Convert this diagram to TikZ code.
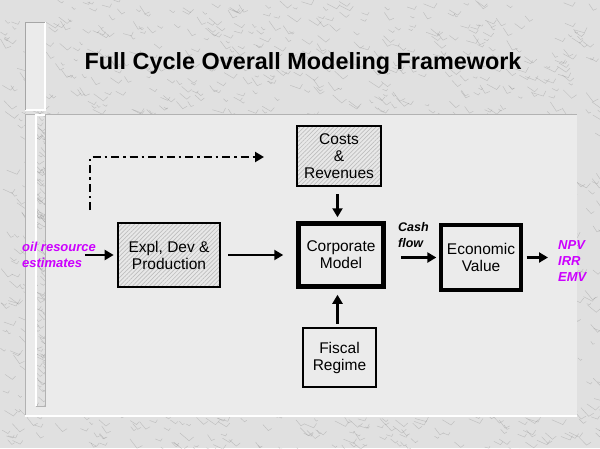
\documentclass[tikz,border=0pt]{standalone}
\usepackage{fontspec}
\setmainfont{Liberation Sans}
\usetikzlibrary{arrows.meta,patterns.meta}
\definecolor{marble}{HTML}{E0E0E0}
\definecolor{panelc}{HTML}{EBEBEB}
\definecolor{hatchbg}{HTML}{E8E8E8}
\definecolor{vein}{HTML}{808080}
\definecolor{mag}{HTML}{CC00FF}
\tikzset{
  box/.style={draw=black, line width=2.7pt, align=center, inner sep=0pt,
    font=\fontsize{15.5}{17}\selectfont, fill=panelc},
  hatched/.style={draw=black, line width=2.7pt, align=center, inner sep=0pt,
    font=\fontsize{15.5}{17}\selectfont,
    preaction={fill=hatchbg},
    pattern={Lines[angle=45,distance=3pt,line width=0.7pt]}, pattern color=white!50!gray},
  flow/.style={line width=2.6pt, -{Triangle[length=9pt,width=10pt]}},
  dashdot/.style={line width=2.2pt, dash pattern=on 8pt off 4pt on 2.5pt off 4pt,
    -{Triangle[length=9pt,width=10pt]}},
  magtext/.style={text=mag, align=left, inner sep=0pt,
    font=\fontsize{13}{16}\selectfont\bfseries\itshape},
  cashtext/.style={align=left, inner sep=0pt,
    font=\fontsize{12.5}{16}\selectfont\bfseries\itshape},
  titletext/.style={font=\fontsize{23.4}{26}\selectfont\bfseries, inner sep=0pt},
  veinline/.style={vein, line width=0.45pt, opacity=0.35, line cap=round}
}
\newcommand{\marbletexture}[4]{%
  \foreach \k in {1,...,#1}{%
    \pgfmathsetmacro{\xa}{#2+rnd*(#3-#2)}%
    \pgfmathsetmacro{\ya}{rnd*#4}%
    \pgfmathsetmacro{\ang}{15+rnd*45}%
    \pgfmathsetmacro{\len}{3+rnd*9}%
    \draw[veinline] (\xa,\ya) -- ++(\ang:\len) -- ++(\ang-80:\len*0.5);
  }%
}
\begin{document}
\begin{tikzpicture}[x=1pt,y=-1pt]
  \useasboundingbox (0,0) rectangle (600,448);
  \pgfmathsetseed{7}
  % marble background
  \fill[marble] (0,0) rectangle (600,448);
  \marbletexture{1600}{0}{600}{448}
  % title bar
  \fill[panelc] (25,22) rectangle (45,110);
  \draw[white, line width=1.2pt] (25,110) -- (45,110) -- (45,22);
  \draw[gray!70, line width=1pt] (25,110) -- (25,22) -- (45,22);
  % main panel
  \fill[panelc] (25,114) rectangle (577,416);
  \draw[gray!60, line width=1pt] (25,416) -- (25,114) -- (577,114);
  \draw[white, line width=1.2pt] (25,416) -- (577,416);
  % inner marble strip
  \fill[marble] (36,115) rectangle (45,406);
  \begin{scope}
    \clip (36,115) rectangle (45,406);
    \marbletexture{200}{30}{46}{448}
  \end{scope}
  \draw[white, line width=1.2pt] (36,406) -- (36,115) -- (45,115);
  \draw[gray!60, line width=0.8pt] (45,115) -- (45,406) -- (36,406);

  % title
  \node[titletext, anchor=base] (title) at (303,69) {Full Cycle Overall Modeling Framework};

  % boxes
  \node[hatched, minimum width=102pt, minimum height=64pt] (expl) at (169,255) {Expl, Dev \&\\Production};
  \node[hatched, minimum width=84pt, minimum height=60pt] (costs) at (339,156) {Costs\\\&\\Revenues};
  \node[box, line width=4.5pt, minimum width=85pt, minimum height=63pt] (corp) at (341,255) {Corporate\\Model};
  \node[box, line width=3.3pt, minimum width=80pt, minimum height=65pt] (econ) at (481,257.5) {Economic\\Value};
  \node[box, minimum width=73pt, minimum height=59pt] (fiscal) at (339.5,357.5) {Fiscal\\Regime};

  % side texts
  \node[magtext, anchor=west] (oil) at (22,255) {oil resource\\estimates};
  \node[magtext, anchor=west] (out) at (558,261) {NPV\\IRR\\EMV};
  \node[cashtext, anchor=west] (cash) at (398,235) {Cash\\flow};

  % connectors
  \draw[flow, shorten <=-11pt, shorten >=4pt] (oil.east) -- (expl.west);
  \draw[flow, shorten <=8pt, shorten >=13pt] (expl.east) -- (corp.west);
  \draw[flow, shorten <=7pt, shorten >=4pt] ([xshift=-1.5pt]costs.south) -- ([xshift=-1.5pt]costs.south|-corp.north);
  \draw[flow, shorten <=3pt, shorten >=6pt] ([xshift=-2pt]fiscal.north) -- ([xshift=-2pt]fiscal.north|-corp.south);
  \draw[flow, shorten <=15pt, shorten >=3pt] (corp.east|-econ.west) -- (econ.west);
  \draw[flow, shorten <=4pt, shorten >=10pt] (econ.east) -- (out.west|-econ.east);

  \coordinate (dstart) at (90,210);
  \coordinate (dcorner) at (90,157);
  \coordinate (dend) at (264,157);
  \draw[dashdot] (dstart) -- (dcorner) -- (dend);
\end{tikzpicture}
\end{document}
